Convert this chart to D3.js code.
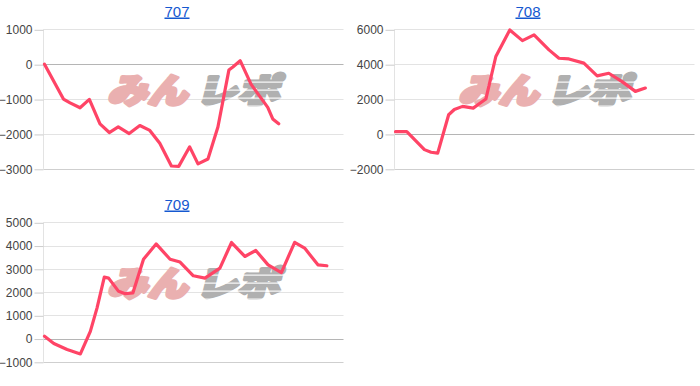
<!DOCTYPE html>
<html><head><meta charset="utf-8">
<script src="https://cdn.jsdelivr.net/npm/d3@7"></script>
<style>
html,body{margin:0;padding:0;background:#fff;}
svg{display:block;font-family:Arial,"Liberation Sans",sans-serif;}
</style></head>
<body>
<svg id="c" width="700" height="386"></svg>
<script>
// ---- data (games played vs. medal difference) ----
const titles = ["707", "708", "709"];

const games707 = [0,570,770,1070,1350,1670,1950,2220,2550,2870,3170,3470,3820,4040,4370,4620,4920,5220,5550,5670,5890,6220,6720,6870,7050];
const diff707  = [0,-1000,-1110,-1250,-1010,-1710,-1960,-1800,-1990,-1760,-1900,-2270,-2920,-2930,-2370,-2860,-2720,-1800,-170,-80,100,-580,-1240,-1570,-1710];

const games708 = [0,340,870,1070,1270,1600,1770,2020,2340,2520,2720,3020,3440,3820,4170,4620,4920,5220,5670,6070,6420,6820,7220,7520];
const diff708  = [130,130,-900,-1050,-1100,1100,1400,1580,1480,1730,2000,4440,5960,5350,5680,4820,4340,4300,4060,3330,3480,3000,2440,2630];

const games709 = [0,280,680,1080,1380,1580,1800,1930,2230,2430,2660,2980,3130,3360,3780,4080,4480,4830,5280,5630,6030,6360,6730,7130,7530,7830,8230,8500];
const diff709  = [100,-210,-470,-660,310,1310,2640,2600,2030,1930,1960,3410,3670,4070,3410,3290,2700,2600,3030,4130,3530,3790,3170,2840,4140,3890,3170,3130];

const ticks707 = [1000,0,-1000,-2000,-3000];
const ticks708 = [6000,4000,2000,0,-2000];
const ticks709 = [5000,4000,3000,2000,1000,0,-1000];

const gameMax = 9000;

// ---- drawing ----
const svg = d3.select("#c");
const panels = [
  {title: titles[0], games: games707, diff: diff707, ticks: ticks707, ox: 0,   oy: 0},
  {title: titles[1], games: games708, diff: diff708, ticks: ticks708, ox: 351, oy: 0},
  {title: titles[2], games: games709, diff: diff709, ticks: ticks709, ox: 0,   oy: 193}
];

panels.forEach(p => {
  const g = svg.append("g").attr("transform", `translate(${p.ox},${p.oy})`);
  const left = 43.5, right = 343.5, top = 29.3, bottom = 168.8;
  const x = d3.scaleLinear().domain([0, gameMax]).range([left + 1, right]);
  const ext = d3.extent(p.ticks);
  const y = d3.scaleLinear().domain(ext).range([bottom, top]);

  // title
  g.append("text").attr("x", 177).attr("y", 16.5).attr("text-anchor", "middle")
    .attr("font-size", 15).attr("fill", "#1558d0")
    .attr("text-decoration", "underline").text(p.title);

  // gridlines
  g.append("g").selectAll("line").data(p.ticks).join("line")
    .attr("x1", left).attr("x2", right)
    .attr("y1", d => Math.round(y(d)) + 0.5).attr("y2", d => Math.round(y(d)) + 0.5)
    .attr("stroke", d => d === 0 ? "#b5b5b5" : (d === ext[0] ? "#cfcfcf" : "#e3e3e3"))
    .attr("stroke-width", 1);

  // vertical axis line
  g.append("line").attr("x1", left).attr("x2", left).attr("y1", top).attr("y2", bottom)
    .attr("stroke", "#e3e3e3");

  // axis with ticks
  const ax = d3.axisLeft(y).tickValues(p.ticks).tickSize(9).tickPadding(2).tickFormat(d3.format("d"));
  const axg = g.append("g").attr("transform", `translate(${left},0.5)`).call(ax);
  axg.select(".domain").remove();
  axg.selectAll(".tick line").attr("stroke", "#cccccc");
  axg.selectAll(".tick text").attr("font-size", 12).attr("fill", "#444")
    .attr("font-family", "Arial,'Liberation Sans',sans-serif");

  // watermark
  const cx = (left + right) / 2, cy = (top + bottom) / 2 - 8;
  const wm = g.append("g").attr("transform", `translate(${cx},${cy + 12}) skewX(-14)`);
  wm.append("text").attr("x", -86).attr("y", 0)
    .attr("font-family", "'Noto Sans CJK JP',sans-serif").attr("font-weight", 900)
    .attr("font-size", 34).attr("textLength", 80).attr("lengthAdjust", "spacingAndGlyphs")
    .attr("fill", "#eab0b0").attr("stroke", "#eab0b0").attr("stroke-width", 3.5)
    .attr("stroke-linejoin", "round").text("みん");
  wm.append("text").attr("x", 2).attr("y", 0)
    .attr("font-family", "'Noto Sans CJK JP',sans-serif").attr("font-weight", 900)
    .attr("font-size", 34).attr("textLength", 84).attr("lengthAdjust", "spacingAndGlyphs")
    .attr("fill", "#b0b0b0").attr("stroke", "#b0b0b0").attr("stroke-width", 3.5)
    .attr("stroke-linejoin", "round").text("レポ");
  // speed stripes
  wm.append("g").selectAll("line").data([-21, -13, -5, 3]).join("line")
    .attr("x1", 0).attr("x2", 92).attr("y1", d => d).attr("y2", d => d)
    .attr("stroke", "#fff").attr("stroke-width", 1.3).attr("stroke-opacity", 0.9);

  // line
  const pts = p.games.map((gm, i) => [gm, p.diff[i]]);
  g.append("path").datum(pts)
    .attr("d", d3.line().x(d => x(d[0])).y(d => y(d[1])))
    .attr("fill", "none").attr("stroke", "#ff4466").attr("stroke-width", 3.2)
    .attr("stroke-linejoin", "round").attr("stroke-linecap", "round");
});
</script>
</body></html>
